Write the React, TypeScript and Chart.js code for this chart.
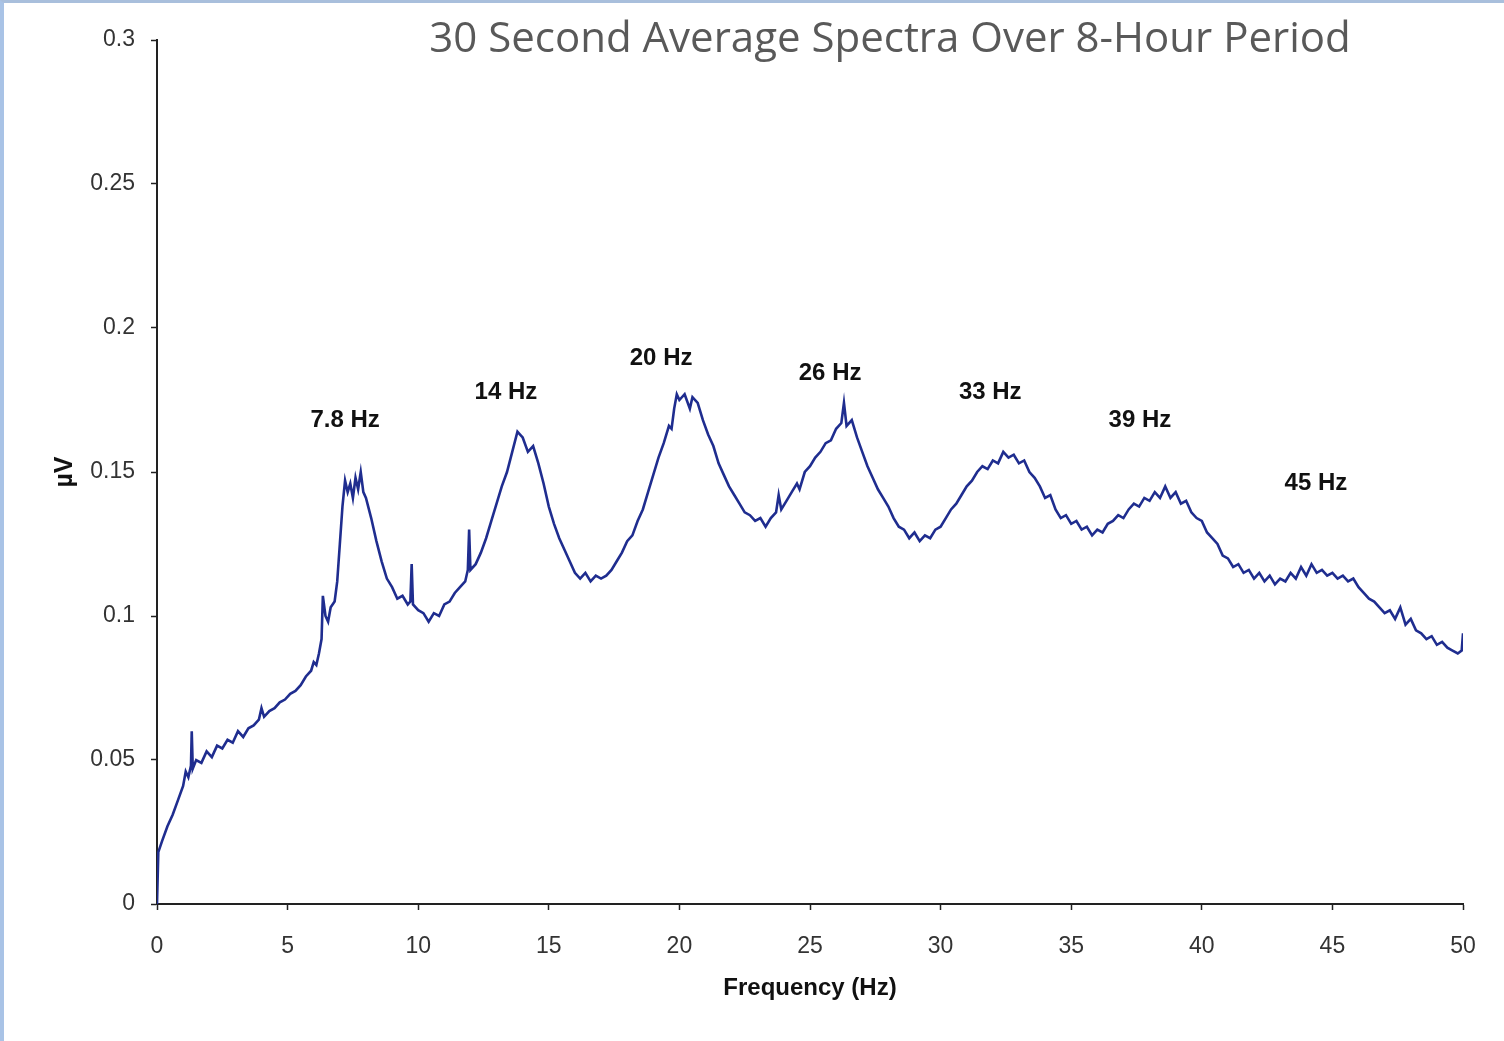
import React, { useEffect, useRef } from "react";
import { Chart, registerables } from "chart.js";

Chart.register(...registerables);

const freqHz: number[] = [
  0, 0.05, 0.2, 0.4, 0.6, 0.8, 1.0, 1.1, 1.2, 1.3, 1.33, 1.37, 1.5, 1.7, 1.9, 2.1, 2.3, 2.5, 2.7, 2.9,
  3.1, 3.3, 3.5, 3.7, 3.9, 4.0, 4.1, 4.3, 4.5, 4.7, 4.9, 5.1, 5.3, 5.5, 5.7, 5.9, 6.0, 6.1, 6.2, 6.3,
  6.35, 6.45, 6.55, 6.65, 6.8, 6.9, 7.0, 7.1, 7.2, 7.3, 7.4, 7.5, 7.6, 7.7, 7.8, 7.9, 8.0, 8.2, 8.4, 8.6,
  8.8, 9.0, 9.2, 9.4, 9.6, 9.7, 9.75, 9.8, 10.0, 10.2, 10.4, 10.6, 10.8, 11.0, 11.2, 11.4, 11.6, 11.8, 11.9, 11.95,
  12.0, 12.2, 12.4, 12.6, 12.8, 13.0, 13.2, 13.4, 13.6, 13.8, 13.9, 14.0, 14.2, 14.4, 14.6, 14.8, 15.0, 15.2, 15.4, 15.6,
  15.8, 16.0, 16.2, 16.4, 16.6, 16.8, 17.0, 17.2, 17.4, 17.6, 17.8, 18.0, 18.2, 18.4, 18.6, 18.8, 19.0, 19.2, 19.4, 19.6,
  19.7, 19.8, 19.9, 20.0, 20.2, 20.4, 20.5, 20.7, 20.9, 21.1, 21.3, 21.5, 21.7, 21.9, 22.1, 22.3, 22.5, 22.7, 22.9, 23.1,
  23.3, 23.5, 23.7, 23.8, 23.9, 24.1, 24.3, 24.5, 24.6, 24.8, 25.0, 25.2, 25.4, 25.6, 25.8, 26.0, 26.2, 26.3, 26.4, 26.6,
  26.8, 27.0, 27.2, 27.4, 27.6, 27.8, 28.0, 28.2, 28.4, 28.6, 28.8, 29.0, 29.2, 29.4, 29.6, 29.8, 30.0, 30.2, 30.4, 30.6,
  30.8, 31.0, 31.2, 31.4, 31.6, 31.8, 32.0, 32.2, 32.4, 32.6, 32.8, 33.0, 33.2, 33.4, 33.6, 33.8, 34.0, 34.2, 34.4, 34.6,
  34.8, 35.0, 35.2, 35.4, 35.6, 35.8, 36.0, 36.2, 36.4, 36.6, 36.8, 37.0, 37.2, 37.4, 37.6, 37.8, 38.0, 38.2, 38.4, 38.6,
  38.8, 39.0, 39.2, 39.4, 39.6, 39.8, 40.0, 40.2, 40.4, 40.6, 40.8, 41.0, 41.2, 41.4, 41.6, 41.8, 42.0, 42.2, 42.4, 42.6,
  42.8, 43.0, 43.2, 43.4, 43.6, 43.8, 44.0, 44.2, 44.4, 44.6, 44.8, 45.0, 45.2, 45.4, 45.6, 45.8, 46.0, 46.2, 46.4, 46.6,
  46.8, 47.0, 47.2, 47.4, 47.6, 47.8, 48.0, 48.2, 48.4, 48.6, 48.8, 49.0, 49.2, 49.4, 49.6, 49.8, 49.95, 50.0,
];

const amplitudeUV: number[] = [
  0.0, 0.018, 0.022, 0.027, 0.031, 0.036, 0.041, 0.046, 0.044, 0.048, 0.06, 0.047, 0.05, 0.049, 0.053, 0.051, 0.055, 0.054, 0.057, 0.056,
  0.06, 0.058, 0.061, 0.062, 0.064, 0.068, 0.065, 0.067, 0.068, 0.07, 0.071, 0.073, 0.074, 0.076, 0.079, 0.081, 0.084, 0.083, 0.087, 0.092,
  0.107, 0.1, 0.098, 0.103, 0.105, 0.112, 0.125, 0.138, 0.147, 0.143, 0.146, 0.141, 0.148, 0.144, 0.15, 0.143, 0.141, 0.134, 0.126, 0.119,
  0.113, 0.11, 0.106, 0.107, 0.104, 0.105, 0.118, 0.104, 0.102, 0.101, 0.098, 0.101, 0.1, 0.104, 0.105, 0.108, 0.11, 0.112, 0.116, 0.13,
  0.116, 0.118, 0.122, 0.127, 0.133, 0.139, 0.145, 0.15, 0.157, 0.164, 0.163, 0.162, 0.157, 0.159, 0.153, 0.146, 0.138, 0.132, 0.127, 0.123,
  0.119, 0.115, 0.113, 0.115, 0.112, 0.114, 0.113, 0.114, 0.116, 0.119, 0.122, 0.126, 0.128, 0.133, 0.137, 0.143, 0.149, 0.155, 0.16, 0.166,
  0.165, 0.172, 0.177, 0.175, 0.177, 0.172, 0.176, 0.174, 0.168, 0.163, 0.159, 0.153, 0.149, 0.145, 0.142, 0.139, 0.136, 0.135, 0.133, 0.134,
  0.131, 0.134, 0.136, 0.142, 0.137, 0.14, 0.143, 0.146, 0.144, 0.15, 0.152, 0.155, 0.157, 0.16, 0.161, 0.165, 0.167, 0.174, 0.166, 0.168,
  0.162, 0.157, 0.152, 0.148, 0.144, 0.141, 0.138, 0.134, 0.131, 0.13, 0.127, 0.129, 0.126, 0.128, 0.127, 0.13, 0.131, 0.134, 0.137, 0.139,
  0.142, 0.145, 0.147, 0.15, 0.152, 0.151, 0.154, 0.153, 0.157, 0.155, 0.156, 0.153, 0.154, 0.15, 0.148, 0.145, 0.141, 0.142, 0.137, 0.134,
  0.135, 0.132, 0.133, 0.13, 0.131, 0.128, 0.13, 0.129, 0.132, 0.133, 0.135, 0.134, 0.137, 0.139, 0.138, 0.141, 0.14, 0.143, 0.141, 0.145,
  0.141, 0.143, 0.139, 0.14, 0.136, 0.134, 0.133, 0.129, 0.127, 0.125, 0.121, 0.12, 0.117, 0.118, 0.115, 0.116, 0.113, 0.115, 0.112, 0.114,
  0.111, 0.113, 0.112, 0.115, 0.113, 0.117, 0.114, 0.118, 0.115, 0.116, 0.114, 0.115, 0.113, 0.114, 0.112, 0.113, 0.11, 0.108, 0.106, 0.105,
  0.103, 0.101, 0.102, 0.099, 0.103, 0.097, 0.099, 0.095, 0.094, 0.092, 0.093, 0.09, 0.091, 0.089, 0.088, 0.087, 0.088, 0.094,
];

const peakLabels: string[] = ["7.8 Hz", "14 Hz", "20 Hz", "26 Hz", "33 Hz", "39 Hz", "45 Hz"];
const peakLabelFreq: number[] = [7.2, 13.36, 19.3, 25.77, 31.9, 37.63, 44.37];
const peakLabelValue: number[] = [0.1678, 0.1775, 0.1896, 0.1844, 0.1775, 0.1678, 0.1462];

const xTicks: number[] = [0, 5, 10, 15, 20, 25, 30, 35, 40, 45, 50];
const yTicks: number[] = [0, 0.05, 0.1, 0.15, 0.2, 0.25, 0.3];

const chartTitle = "30 Second Average Spectra Over 8-Hour Period";

const overlayPlugin = {
  id: "overlay",
  afterDatasetsDraw(chart: any) {
    const ctx = chart.ctx;
    const xs = chart.scales.x;
    const ys = chart.scales.y;
    ctx.save();
    ctx.fillStyle = "#111111";
    ctx.font = "bold 24px 'Liberation Sans', Arial, sans-serif";
    ctx.textAlign = "center";
    ctx.textBaseline = "middle";
    peakLabels.forEach((t, i) => {
      ctx.fillText(t, xs.getPixelForValue(peakLabelFreq[i]), ys.getPixelForValue(peakLabelValue[i]));
    });
    ctx.fillStyle = "#595959";
    ctx.font = "42px 'Open Sans', sans-serif";
    ctx.textBaseline = "alphabetic";
    ctx.fillText(chartTitle, 890, 52);
    ctx.restore();
  },
};

export default function App() {
  const ref = useRef<HTMLCanvasElement | null>(null);
  useEffect(() => {
    document.body.style.margin = "0";
    const canvas = ref.current;
    if (!canvas) return;
    const chart = new Chart(canvas, {
      type: "line",
      data: {
        datasets: [
          {
            data: freqHz.map((f, i) => ({ x: f, y: amplitudeUV[i] })),
            borderColor: "#1f2d8f",
            borderWidth: 2.6,
            pointRadius: 0,
            tension: 0,
            fill: false,
          },
        ],
      },
      options: {
        animation: false,
        responsive: false,
        events: [],
        layout: { padding: { left: 0, right: 41, top: 40, bottom: 0 } },
        plugins: { legend: { display: false }, tooltip: { enabled: false }, title: { display: false } },
        scales: {
          x: {
            type: "linear",
            min: 0,
            max: 50,
            afterBuildTicks: (s: any) => {
              s.ticks = xTicks.map((v) => ({ value: v }));
            },
            afterFit: (s: any) => {
              s.height = 137;
            },
            grid: { drawOnChartArea: false, drawTicks: true, tickLength: 6, tickColor: "#222", tickWidth: 1.5 },
            border: { color: "#222", width: 2 },
            ticks: {
              color: "#333",
              padding: 23,
              maxRotation: 0,
              font: { family: "'Liberation Sans', Arial, sans-serif", size: 23 },
              callback: (v: any) => String(v),
            },
            title: {
              display: true,
              text: "Frequency (Hz)",
              color: "#111",
              font: { family: "'Liberation Sans', Arial, sans-serif", size: 24, weight: "bold" },
              padding: { top: 0, bottom: 38 },
            },
          },
          y: {
            type: "linear",
            min: 0,
            max: 0.3,
            afterBuildTicks: (s: any) => {
              s.ticks = yTicks.map((v) => ({ value: v }));
            },
            afterFit: (s: any) => {
              s.width = 157;
            },
            grid: { drawOnChartArea: false, drawTicks: true, tickLength: 6, tickColor: "#222", tickWidth: 1.5 },
            border: { color: "#222", width: 2 },
            ticks: {
              color: "#333",
              padding: 16,
              font: { family: "'Liberation Sans', Arial, sans-serif", size: 23 },
              callback: (v: any) => String(v),
            },
            title: {
              display: true,
              text: "µV",
              color: "#111",
              font: { family: "'Liberation Sans', Arial, sans-serif", size: 25, weight: "bold" },
              padding: { top: 50, bottom: 0 },
            },
          },
        },
      },
      plugins: [overlayPlugin],
    });
    return () => chart.destroy();
  }, []);

  return (
    <div
      style={{
        position: "absolute",
        left: 0,
        top: 0,
        width: 1504,
        height: 1041,
        background: "#fff",
        boxSizing: "border-box",
        borderLeft: "4px solid #a9c3e6",
        borderTop: "3px solid #a9bfdc",
        overflow: "hidden",
      }}
    >
      <canvas ref={ref} width={1504} height={1041} style={{ position: "absolute", left: -4, top: -3 }} />
    </div>
  );
}
